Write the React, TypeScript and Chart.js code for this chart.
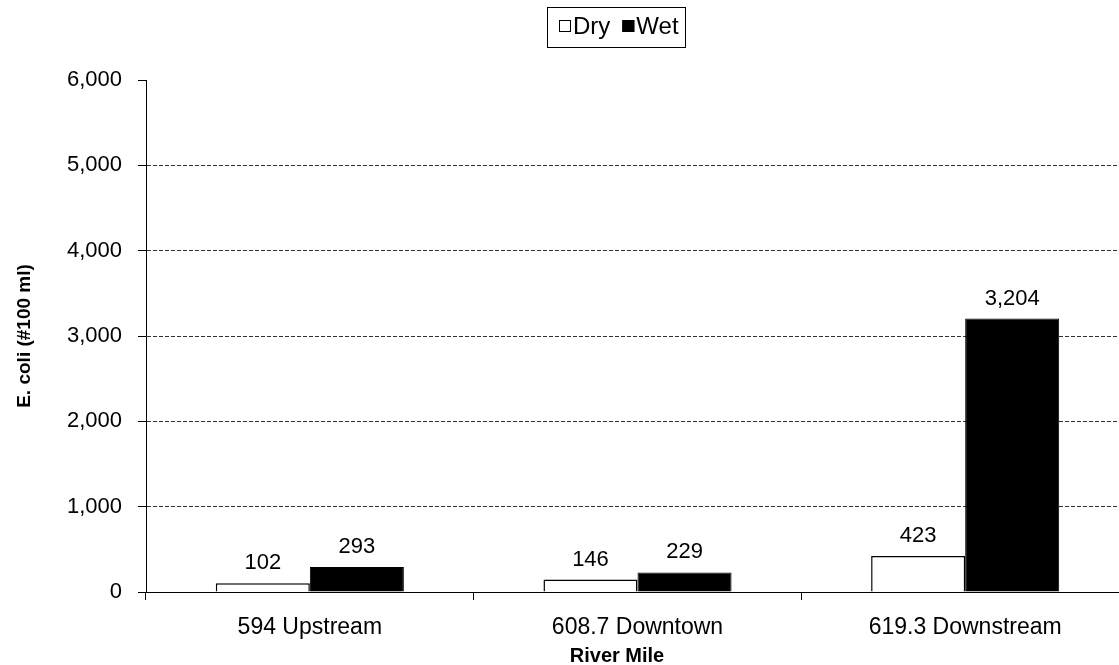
import React, { useEffect, useRef } from "react";
import { Chart, registerables } from "chart.js";

Chart.register(...registerables);

// River-mile stations and E. coli counts (#/100 ml)
const stations = ["594 Upstream", "608.7 Downtown", "619.3 Downstream"];
const dryValues = [102, 146, 423];
const wetValues = [293, 229, 3204];
const yTicks = [0, 1000, 2000, 3000, 4000, 5000, 6000];

const FONT = '"Liberation Sans", Arial, Helvetica, sans-serif';
const fmt = (v: number) => v.toLocaleString("en-US");

// Value labels above each bar
const barLabels = {
  id: "barLabels",
  afterDatasetsDraw(chart: any) {
    const { ctx } = chart;
    ctx.save();
    ctx.font = `22px ${FONT}`;
    ctx.fillStyle = "#000";
    ctx.textAlign = "center";
    ctx.textBaseline = "alphabetic";
    chart.data.datasets.forEach((ds: any, di: number) => {
      const meta = chart.getDatasetMeta(di);
      meta.data.forEach((bar: any, i: number) => {
        ctx.fillText(fmt(ds.data[i]), bar.x, bar.y - 14);
      });
    });
    ctx.restore();
  },
};

// Boxed legend at the top and the category axis title
const legendAndTitle = {
  id: "legendAndTitle",
  afterDraw(chart: any) {
    const { ctx } = chart;
    ctx.save();
    // legend frame
    const boxX = 547;
    const boxY = 7;
    const boxW = 138;
    const boxH = 40;
    ctx.fillStyle = "#fff";
    ctx.fillRect(boxX, boxY, boxW, boxH);
    ctx.strokeStyle = "#000";
    ctx.lineWidth = 1;
    ctx.strokeRect(boxX + 0.5, boxY + 0.5, boxW, boxH);
    ctx.font = `24px ${FONT}`;
    ctx.textBaseline = "alphabetic";
    ctx.textAlign = "left";
    let x = boxX + 12;
    chart.data.datasets.forEach((ds: any) => {
      ctx.fillStyle = ds.backgroundColor;
      ctx.fillRect(x, 20, 12, 12);
      ctx.strokeStyle = "#000";
      ctx.strokeRect(x + 0.5, 20.5, 11, 11);
      ctx.fillStyle = "#000";
      ctx.fillText(ds.label, x + 14, 34);
      x += 14 + ctx.measureText(ds.label).width + 12;
    });
    // x axis title
    ctx.font = `bold 20px ${FONT}`;
    ctx.textAlign = "center";
    ctx.fillStyle = "#000";
    ctx.fillText("River Mile", 617, 662);
    ctx.restore();
  },
};

export default function App() {
  const canvasRef = useRef<HTMLCanvasElement | null>(null);

  useEffect(() => {
    const canvas = canvasRef.current;
    if (!canvas) return;
    const chart = new Chart(canvas, {
      type: "bar",
      data: {
        labels: stations,
        datasets: [
          {
            label: "Dry",
            data: dryValues,
            backgroundColor: "#ffffff",
            borderColor: "#000000",
            borderWidth: 1.5,
            categoryPercentage: 0.574,
            barPercentage: 1,
          },
          {
            label: "Wet",
            data: wetValues,
            backgroundColor: "#000000",
            borderColor: "#000000",
            borderWidth: 1,
            categoryPercentage: 0.574,
            barPercentage: 1,
          },
        ],
      },
      options: {
        responsive: false,
        animation: false,
        devicePixelRatio: 1,
        layout: { padding: { top: 80, left: 0, right: 0, bottom: 0 } },
        plugins: {
          legend: { display: false },
          tooltip: { enabled: false },
        },
        scales: {
          x: {
            afterFit(scale: any) {
              scale.height = 73;
            },
            grid: {
              display: true,
              offset: true,
              drawOnChartArea: false,
              drawTicks: true,
              tickLength: 8,
              color: "#000",
            },
            border: { display: true, color: "#000", width: 1 },
            ticks: {
              color: "#000",
              font: { family: FONT, size: 23 },
              padding: 14,
              maxRotation: 0,
            },
          },
          y: {
            min: yTicks[0],
            max: yTicks[yTicks.length - 1],
            afterFit(scale: any) {
              scale.width = 146;
            },
            afterBuildTicks(scale: any) {
              scale.ticks = yTicks.map((v) => ({ value: v }));
            },
            grid: {
              display: true,
              drawTicks: true,
              tickLength: 8,
              color: (c: any) =>
                c.tick && (c.tick.value === 0 || c.tick.value === 6000)
                  ? "rgba(0,0,0,0)"
                  : "#333",
              tickColor: "#000",
              tickBorderDash: [],
            },
            border: { display: true, color: "#000", width: 1, dash: [4, 2] },
            ticks: {
              color: "#000",
              font: { family: FONT, size: 22 },
              padding: 16,
              callback: (v: any) => fmt(Number(v)),
            },
            title: {
              display: true,
              text: "E. coli (#100 ml)",
              color: "#000",
              font: { family: FONT, size: 19, weight: "bold" },
              padding: { top: 13, bottom: 0 },
            },
          },
        },
      },
      plugins: [barLabels, legendAndTitle],
    } as any);
    return () => chart.destroy();
  }, []);

  return (
    <div
      style={{
        position: "absolute",
        left: 0,
        top: 0,
        width: 1119,
        height: 665,
        overflow: "hidden",
        background: "#fff",
      }}
    >
      <canvas
        ref={canvasRef}
        width={1129}
        height={665}
        style={{ width: 1129, height: 665, display: "block" }}
      />
    </div>
  );
}
